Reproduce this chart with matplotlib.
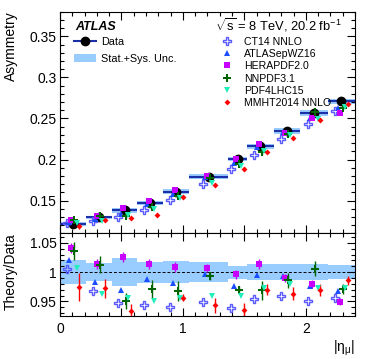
import matplotlib
matplotlib.use('Agg')
import matplotlib.pyplot as plt
from matplotlib.lines import Line2D
from matplotlib.patches import Patch
from matplotlib.ticker import MultipleLocator, FuncFormatter
import numpy as np

plt.rcParams['font.family'] = ['Liberation Sans', 'DejaVu Sans']
plt.rcParams['mathtext.fontset'] = 'custom'
plt.rcParams['mathtext.rm'] = 'Liberation Sans'
plt.rcParams['mathtext.it'] = 'Liberation Sans:italic'

# ------------------------------------------------------------
# Data
# ------------------------------------------------------------

eta_edges = [0, 0.21, 0.42, 0.63, 0.84, 1.05, 1.37, 1.52, 1.74, 1.95, 2.18, 2.4]
asym_data = [0.122, 0.1295, 0.138, 0.147, 0.161, 0.179, 0.201, 0.216, 0.235, 0.2565, 0.271]
rel_unc = [0.021, 0.016, 0.024, 0.018, 0.019, 0.017, 0.011, 0.014, 0.014, 0.014, 0.012]

models = ['CT14 NNLO', 'ATLASepWZ16', 'HERAPDF2.0', 'NNPDF3.1', 'PDF4LHC15', 'MMHT2014 NNLO']

ratio_ct14 = [1.006, 0.967, 0.947, 0.944, 0.940, 0.949, 0.939, 0.954, 0.960, 0.950, 0.956]
ratio_atlas = [1.021, 0.983, 0.970, 0.989, 0.982, 0.996, 0.976, 0.995, 0.993, 0.976, 0.968]
ratio_hera = [1.041, 1.014, 1.026, 1.014, 1.009, 1.007, 0.996, 1.014, 0.990, 0.979, 0.949]
ratio_nnpdf = [1.036, 1.013, 0.951, 0.971, 0.968, 0.993, 0.969, 0.969, 0.986, 1.006, 0.971]
ratio_pdf4lhc = [1.007, 0.963, 0.956, 0.951, 0.955, 0.960, 0.959, 0.973, 0.980, 0.972, 0.973]
ratio_mmht = [0.974, 0.972, 0.933, 0.905, 0.956, 0.943, 0.936, 0.970, 0.963, 0.969, 0.986]

err_ct14 = [0.0] * 11
err_atlas = [0.0] * 11
err_hera = [0.008, 0.008, 0.008, 0.008, 0.008, 0.007, 0.007, 0.008, 0.007, 0.007, 0.006]
err_nnpdf = [0.015, 0.014, 0.014, 0.016, 0.017, 0.006, 0.007, 0.016, 0.013, 0.013, 0.008]
err_pdf4lhc = [0.0] * 11
err_mmht = [0.024, 0.016, 0.013, 0.012, 0.006, 0.013, 0.011, 0.009, 0.011, 0.010, 0.008]

# ------------------------------------------------------------
# Styles
# ------------------------------------------------------------

styles = [
    dict(marker='P', color='#5a5aff', mfc='none', ms=5.5, mew=1.0),
    dict(marker='^', color='#1a4dff', mfc='#1a4dff', ms=5, mew=0),
    dict(marker='s', color='#c800ff', mfc='#c800ff', ms=5, mew=0),
    dict(marker='P', color='#006400', mfc='#006400', ms=5.5, mew=0),
    dict(marker='v', color='#22eebb', mfc='#22eebb', ms=5, mew=0),
    dict(marker='D', color='#ff0000', mfc='#ff0000', ms=3, mew=0),
]
offsets = [-0.05, -0.028, -0.012, 0.012, 0.03, 0.052]
band_col = '#99ccff'
line_col = '#1a2fa8'

ratios = [ratio_ct14, ratio_atlas, ratio_hera, ratio_nnpdf, ratio_pdf4lhc, ratio_mmht]
errors = [err_ct14, err_atlas, err_hera, err_nnpdf, err_pdf4lhc, err_mmht]

edges = np.array(eta_edges)
centers = 0.5 * (edges[1:] + edges[:-1])
widths = edges[1:] - edges[:-1]
asym = np.array(asym_data)
rel = np.array(rel_unc)

# ------------------------------------------------------------
# Plotting
# ------------------------------------------------------------

fig = plt.figure(figsize=(3.74, 3.59), dpi=100)
ax1 = fig.add_axes([0.1604, 0.3496, 0.7888, 0.6178])
ax2 = fig.add_axes([0.1604, 0.1198, 0.7888, 0.2298], sharex=ax1)

# upper panel
ax1.bar(centers, 2 * rel * asym, bottom=asym * (1 - rel), width=widths, color=band_col, lw=0, zorder=1)
ax1.errorbar(centers, asym, xerr=widths / 2, fmt='o', color='black', ecolor=line_col,
             ms=6, elinewidth=1.5, capsize=0, zorder=3)
for r, e, st, off in zip(ratios, errors, styles, offsets):
    r = np.array(r)
    e = np.array(e)
    ax1.errorbar(centers + off, asym * r, yerr=asym * e, fmt='none', ecolor=st['color'],
                 elinewidth=1.0, capsize=0, zorder=4)
    ax1.plot(centers + off, asym * r, ls='none', zorder=5, **st)

# lower panel
ax2.bar(centers, 2 * rel, bottom=1 - rel, width=widths, color=band_col, lw=0, zorder=1)
ax2.axhline(1, ls=(0, (3, 2)), color='black', lw=0.7, zorder=2)
for r, e, st, off in zip(ratios, errors, styles, offsets):
    ax2.errorbar(centers + off, r, yerr=e, fmt='none', ecolor=st['color'],
                 elinewidth=1.0, capsize=0, zorder=4)
    ax2.plot(centers + off, r, ls='none', zorder=5, **st)

# axes styling
for ax in (ax1, ax2):
    ax.set_xlim(0, 2.4)
    ax.xaxis.set_major_locator(MultipleLocator(0.5))
    ax.xaxis.set_minor_locator(MultipleLocator(0.1))
    ax.tick_params(which='both', direction='in', top=True, right=True, labelsize=10)
    ax.tick_params(which='major', length=6, width=0.8)
    ax.tick_params(which='minor', length=3, width=0.8)
    ax.tick_params(axis='y', pad=2.5)
    ax.yaxis.set_major_formatter(FuncFormatter(lambda v, p: '%g' % round(v, 3)))
    for sp in ax.spines.values():
        sp.set_linewidth(0.8)

ax1.set_ylim(0.11, 0.38)
ax1.yaxis.set_major_locator(MultipleLocator(0.05))
ax1.yaxis.set_minor_locator(MultipleLocator(0.01))
ax1.tick_params(axis='x', labelbottom=False)

ax2.set_ylim(0.925, 1.066)
ax2.yaxis.set_major_locator(MultipleLocator(0.05))
ax2.yaxis.set_minor_locator(MultipleLocator(0.01))
ax2.xaxis.set_major_formatter(FuncFormatter(lambda v, p: '%d' % v if abs(v - round(v)) < 1e-6 else ''))
ax2.tick_params(axis='x', pad=4)

ax1.set_ylabel('Asymmetry', fontsize=10, loc='top')
ax1.yaxis.set_label_coords(-0.142, 1.0)
ax2.set_ylabel('Theory/Data', fontsize=10, loc='top')
ax2.yaxis.set_label_coords(-0.142, 1.0)
ax2.set_xlabel(r'|η$_{\mathregular{μ}}$|', fontsize=10, loc='right')
ax2.xaxis.set_label_coords(1.0, -0.28)

# texts
ax1.text(0.051, 0.9175, 'ATLAS', transform=ax1.transAxes, fontsize=9,
         fontweight='bold', fontstyle='italic', va='baseline')
ax1.text(0.955, 0.9175, r'$\sqrt{\mathregular{s}}$ = 8 TeV, 20.2 fb$^{-1}$', transform=ax1.transAxes,
         fontsize=9.3, ha='right', va='baseline')

# legends
h_data = [Line2D([], [], marker='o', color=line_col, mfc='black', mec='black', ms=6, lw=1.5),
          Patch(facecolor=band_col, edgecolor='none')]
leg1 = ax1.legend(h_data, ['Data', 'Stat.+Sys. Unc.'], loc='upper left',
                  bbox_to_anchor=(0.048, 0.885), frameon=False, fontsize=7.8,
                  handlelength=2.0, handletextpad=0.45, labelspacing=0.6,
                  borderpad=0, borderaxespad=0)
ax1.add_artist(leg1)

h_th = [Line2D([], [], ls='none', **st) for st in styles]
ax1.legend(h_th, models, loc='upper left', bbox_to_anchor=(0.548, 0.888), frameon=False,
           fontsize=7.6, handlelength=1.0, handletextpad=1.1, labelspacing=0.22,
           borderpad=0, borderaxespad=0)

fig.savefig('out.png', dpi=100)
